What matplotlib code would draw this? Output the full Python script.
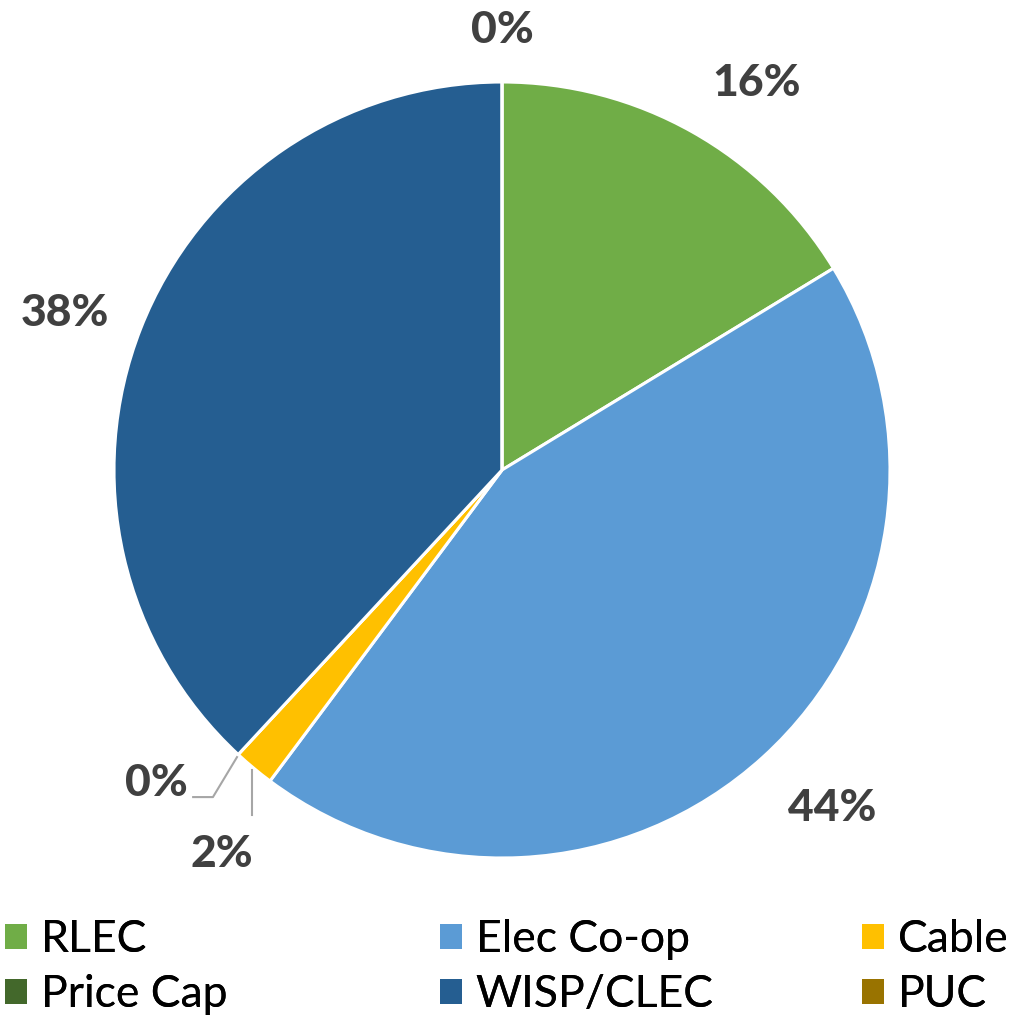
import matplotlib.pyplot as plt
from matplotlib.patches import Patch

# Share of projects by provider type (clockwise from 12 o'clock)
categories = ['RLEC', 'Elec Co-op', 'Cable', 'Price Cap', 'WISP/CLEC', 'PUC']
shares = [16.3, 43.9, 1.7, 0.0, 38.1, 0.0]
colors = ['#70AD47', '#5B9BD5', '#FFC000', '#43682B', '#255E91', '#997300']

fig = plt.figure(figsize=(10.2, 10.18), dpi=100)
ax = fig.add_axes([0, 0, 1, 1])

wedges, _ = ax.pie(shares, colors=colors, startangle=90, counterclock=False,
                   wedgeprops=dict(edgecolor='white', linewidth=2.2))
ax.set_aspect('auto')
ax.set_xlim(-502 / 388, 518 / 388)
ax.set_ylim(-548 / 388, 470 / 388)
ax.axis('off')

# label positions (data units, radius = 1)
label_pos = [(0.657, 0.997), (0.851, -0.871), (-0.722, -0.99),
             (-0.892, -0.806), (-1.126, 0.405), (0.0, 1.134)]
for v, (x, y) in zip(shares, label_pos):
    ax.text(x, y, f'{v:.0f}%', ha='center', va='center', fontsize=32,
            fontweight='black', color='#404040', family='Lato')

# leader lines for the tiny slices
ax.plot([-0.683, -0.745, -0.796], [-0.740, -0.843, -0.843], color='#A6A6A6', lw=1.5)
ax.plot([-0.644, -0.644], [-0.773, -0.889], color='#A6A6A6', lw=1.5)

# legend: three columns, filled row by row
handles = [Patch(facecolor=c, label=l) for c, l in zip(colors, categories)]
col_x = [5 / 1020, 440 / 1020, 862 / 1020]
for j, x0 in enumerate(col_x):
    idx = [j, j + 3]
    leg = fig.legend([handles[i] for i in idx], [categories[i] for i in idx],
                     loc='center left', bbox_to_anchor=(x0, 0.05),
                     frameon=False, prop=dict(family='Lato', size=32),
                     handlelength=0.5, handleheight=0.5, handletextpad=0.3,
                     labelspacing=0.32, borderpad=0, borderaxespad=0)
    fig.add_artist(leg)

fig.savefig('out.png', dpi=100)
